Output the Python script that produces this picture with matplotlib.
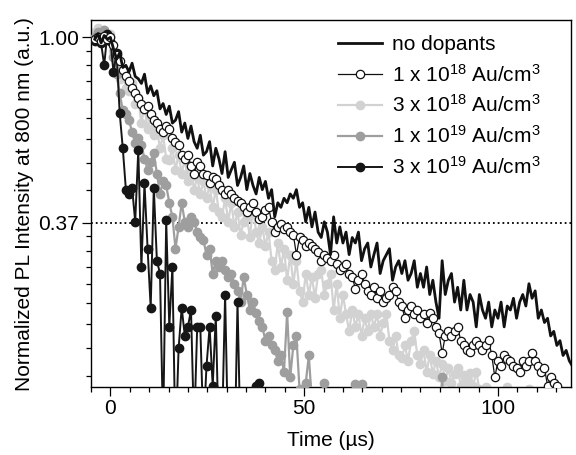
import numpy as np
import matplotlib.pyplot as plt
from matplotlib.ticker import FixedLocator, FixedFormatter

plt.rcParams['font.family'] = ['Liberation Sans', 'DejaVu Sans']
plt.rcParams['mathtext.fontset'] = 'custom'
plt.rcParams['mathtext.rm'] = 'Liberation Sans'
plt.rcParams['mathtext.it'] = 'Liberation Sans:italic'

# sampling of the transients (us)
t_start = -4.0
t_step = 0.8

# normalized PL intensity at 800 nm
no_dopants = [
    0.99, 1.02, 0.97, 1.01, 0.99, 1.00, 0.94, 0.89, 0.92, 0.85,
    0.86, 0.83, 0.87, 0.81, 0.80, 0.78, 0.82, 0.74, 0.77, 0.73,
    0.75, 0.68, 0.70, 0.66, 0.69, 0.63, 0.64, 0.67, 0.60, 0.63,
    0.58, 0.62, 0.57, 0.55, 0.59, 0.53, 0.54, 0.57, 0.50, 0.55,
    0.52, 0.48, 0.54, 0.47, 0.49, 0.51, 0.45, 0.47, 0.50, 0.44,
    0.48, 0.45, 0.43, 0.47, 0.44, 0.46, 0.42, 0.44, 0.38, 0.41,
    0.40, 0.42, 0.41, 0.43, 0.42, 0.44, 0.40, 0.41, 0.37, 0.40,
    0.36, 0.39, 0.35, 0.34, 0.37, 0.35, 0.31, 0.38, 0.33, 0.36,
    0.33, 0.35, 0.31, 0.34, 0.33, 0.35, 0.30, 0.32, 0.33, 0.29,
    0.31, 0.33, 0.28, 0.30, 0.31, 0.32, 0.27, 0.29, 0.30, 0.28,
    0.30, 0.27, 0.28, 0.30, 0.26, 0.28, 0.26, 0.29, 0.25, 0.27,
    0.24, 0.22, 0.30, 0.25, 0.27, 0.28, 0.24, 0.26, 0.23, 0.27,
    0.23, 0.25, 0.24, 0.21, 0.25, 0.23, 0.22, 0.24, 0.21, 0.23,
    0.22, 0.24, 0.21, 0.235, 0.23, 0.245, 0.22, 0.24, 0.25, 0.235,
    0.265, 0.245, 0.255, 0.22, 0.23, 0.215, 0.22, 0.20, 0.205, 0.19,
    0.195, 0.18, 0.185, 0.175, 0.17, 0.175,
]

au_1e18 = [
    0.99, 1.00, 0.98, 1.01, 0.99, 1.00, 0.96, 0.91, 0.88, 0.84,
    0.81, 0.79, 0.76, 0.74, 0.72, 0.70, 0.68, 0.69, 0.66, 0.64,
    0.63, 0.61, 0.60, 0.62, 0.61, 0.58, 0.57, 0.56, 0.53, 0.52,
    0.53, 0.50, 0.48, 0.51, 0.50, 0.48, 0.475, 0.455, 0.47, 0.465,
    0.45, 0.44, 0.43, 0.44, 0.43, 0.42, 0.415, 0.41, 0.40, 0.39,
    0.40, 0.41, 0.39, 0.375, 0.38, 0.395, 0.40, 0.37, 0.35, 0.36,
    0.365, 0.355, 0.36, 0.35, 0.345, 0.31, 0.34, 0.335, 0.325, 0.33,
    0.325, 0.32, 0.315, 0.30, 0.31, 0.305, 0.30, 0.31, 0.295, 0.285,
    0.29, 0.295, 0.28, 0.275, 0.258, 0.27, 0.28, 0.265, 0.255, 0.25,
    0.26, 0.245, 0.255, 0.24, 0.246, 0.25, 0.26, 0.255, 0.24, 0.235,
    0.22, 0.23, 0.235, 0.225, 0.23, 0.22, 0.225, 0.215, 0.226, 0.22,
    0.21, 0.203, 0.182, 0.20, 0.205, 0.20, 0.205, 0.21, 0.195, 0.19,
    0.185, 0.183, 0.19, 0.195, 0.19, 0.185, 0.19, 0.196, 0.18, 0.16,
    0.175, 0.17, 0.18, 0.177, 0.175, 0.17, 0.168, 0.165, 0.175, 0.17,
    0.175, 0.182, 0.175, 0.17, 0.165, 0.168, 0.153, 0.16, 0.155, 0.153,
    0.145,
]

au_3e18 = [
    1.03, 1.05, 1.02, 1.04, 1.00, 1.02, 0.93, 0.84, 0.80, 0.83,
    0.76, 0.75, 0.78, 0.70, 0.72, 0.63, 0.69, 0.61, 0.65, 0.59,
    0.61, 0.55, 0.59, 0.52, 0.515, 0.55, 0.49, 0.53, 0.48, 0.52,
    0.46, 0.49, 0.44, 0.47, 0.43, 0.46, 0.42, 0.45, 0.40, 0.44,
    0.39, 0.38, 0.42, 0.37, 0.41, 0.36, 0.39, 0.345, 0.37, 0.38,
    0.34, 0.40, 0.35, 0.33, 0.36, 0.325, 0.35, 0.30, 0.285, 0.33,
    0.29, 0.32, 0.27, 0.31, 0.265, 0.30, 0.255, 0.24, 0.28, 0.25,
    0.275, 0.245, 0.28, 0.285, 0.25, 0.265, 0.28, 0.23, 0.265, 0.22,
    0.25, 0.225, 0.205, 0.23, 0.21, 0.225, 0.20, 0.22, 0.205, 0.225,
    0.21, 0.225, 0.20, 0.215, 0.225, 0.195, 0.185, 0.20, 0.18, 0.178,
    0.19, 0.175, 0.195, 0.205, 0.18, 0.172, 0.185, 0.165, 0.18, 0.163,
    0.175, 0.16, 0.172, 0.157, 0.168, 0.155, 0.163, 0.168, 0.153, 0.162,
    0.156, 0.164, 0.153, 0.165, 0.15, 0.145, 0.152, 0.14, 0.135, 0.14,
    0.13, 0.138, 0.145, 0.152, 0.14, 0.13, 0.135, 0.14, 0.145, 0.13,
    0.15, 0.14, 0.13, 0.12, 0.13,
]

au_1e19 = [
    1.00, 1.03, 0.98, 1.04, 1.01, 1.00, 0.90, 0.82, 0.74, 0.675,
    0.66, 0.64, 0.60, 0.565, 0.58, 0.56, 0.52, 0.49, 0.51, 0.535,
    0.48, 0.43, 0.46, 0.45, 0.41, 0.38, 0.32, 0.36, 0.41, 0.37,
    0.36, 0.38, 0.37, 0.35, 0.34, 0.335, 0.31, 0.32, 0.28, 0.30,
    0.29, 0.30, 0.285, 0.275, 0.28, 0.265, 0.255, 0.24, 0.275, 0.25,
    0.23, 0.24, 0.226, 0.217, 0.21, 0.195, 0.20, 0.19, 0.185, 0.175,
    0.18, 0.165, 0.227, 0.16, 0.19, 0.20, 0.15, 0.14, 0.155, 0.18,
    0.14, 0.13, 0.12, 0.14, 0.155, 0.13, 0.12, 0.11, 0.13, 0.12,
    0.11, 0.12, 0.13, 0.14, 0.154, 0.14, 0.154, 0.13, 0.12, 0.11,
    0.12, 0.11, 0.10, 0.12, 0.11, 0.10, 0.11, 0.12, 0.10, 0.11,
    0.12, 0.10, 0.11, 0.12, 0.10, 0.11, 0.10, 0.12, 0.11, 0.10,
    0.11, 0.12, 0.16, 0.11, 0.10,
]

au_3e19 = [
    0.98, 1.00, 0.97, 0.86, 1.02, 0.98, 0.83, 0.92, 0.665, 0.55,
    0.44, 0.43, 0.445, 0.37, 0.545, 0.29, 0.455, 0.32, 0.233, 0.445,
    0.30, 0.28, 0.12, 0.373, 0.21, 0.29, 0.11, 0.187, 0.233, 0.20,
    0.21, 0.23, 0.12, 0.21, 0.21, 0.12, 0.17, 0.21, 0.153, 0.223,
    0.11, 0.12, 0.25, 0.11, 0.12, 0.10, 0.24, 0.11, 0.10, 0.12,
    0.11, 0.12, 0.153, 0.155, 0.11,
]

labels = ['no dopants',
          r'1 x 10$^{18}$ Au/cm$^{3}$',
          r'3 x 10$^{18}$ Au/cm$^{3}$',
          r'1 x 10$^{19}$ Au/cm$^{3}$',
          r'3 x 10$^{19}$ Au/cm$^{3}$']


def times(values):
    return t_start + t_step * np.arange(len(values))


fig = plt.figure(figsize=(5.76, 4.55), dpi=100)
ax = fig.add_axes([0.158, 0.149, 0.833, 0.807])
ax.set_yscale('log')

# 1/e reference line
ax.axhline(np.exp(-1), color='black', linestyle=':', linewidth=1.3, zorder=1)

ms = 6
ax.plot(times(no_dopants), no_dopants, color='#111111', linewidth=2.0,
        label=labels[0], zorder=6)
ax.plot(times(au_1e18), au_1e18, color='#111111', linewidth=0.9,
        marker='o', markersize=ms, markerfacecolor='white',
        markeredgecolor='#111111', markeredgewidth=0.9, label=labels[1], zorder=5)
ax.plot(times(au_3e18), au_3e18, color='#d2d2d2', linewidth=1.6,
        marker='o', markersize=ms, label=labels[2], zorder=2)
ax.plot(times(au_1e19), au_1e19, color='#9e9e9e', linewidth=1.6,
        marker='o', markersize=ms, label=labels[3], zorder=3)
ax.plot(times(au_3e19), au_3e19, color='#161616', linewidth=1.4,
        marker='o', markersize=ms, label=labels[4], zorder=4)

ax.set_xlim(-5, 118.8)
ax.set_ylim(0.1517, 1.098)

# x ticks: labels every 50, minor every 5
ax.set_xticks([0, 50, 100])
ax.set_xticks(np.arange(-5, 119, 5), minor=True)

# y ticks: 1.00 and 1/e, minor ticks split each e-fold in 9 equal steps
e1 = np.exp(-1)
e2 = np.exp(-2)
y_minor = list(np.linspace(e1, 1.0, 10)[1:-1]) + list(np.linspace(e2, e1, 10)[1:-1])
ax.yaxis.set_major_locator(FixedLocator([e1, 1.0]))
ax.yaxis.set_major_formatter(FixedFormatter(['0.37', '1.00']))
ax.yaxis.set_minor_locator(FixedLocator(y_minor))
ax.yaxis.set_minor_formatter(FixedFormatter([''] * len(y_minor)))

ax.tick_params(which='major', direction='out', length=6.5, width=0.9,
               labelsize=15, pad=2)
ax.tick_params(which='minor', direction='out', length=3.6, width=0.9)
for sp in ax.spines.values():
    sp.set_linewidth(1.0)

ax.set_xlabel('Time (µs)', fontsize=15, labelpad=9)
ax.set_ylabel('Normalized PL Intensity at 800 nm (a.u.)', fontsize=15, labelpad=3)

ax.legend(loc='upper left', bbox_to_anchor=(0.515, 0.958), frameon=False,
          fontsize=15, borderpad=0, borderaxespad=0, handlelength=2.1,
          handletextpad=0.5, labelspacing=0.43)

plt.savefig('out.png', dpi=100)
